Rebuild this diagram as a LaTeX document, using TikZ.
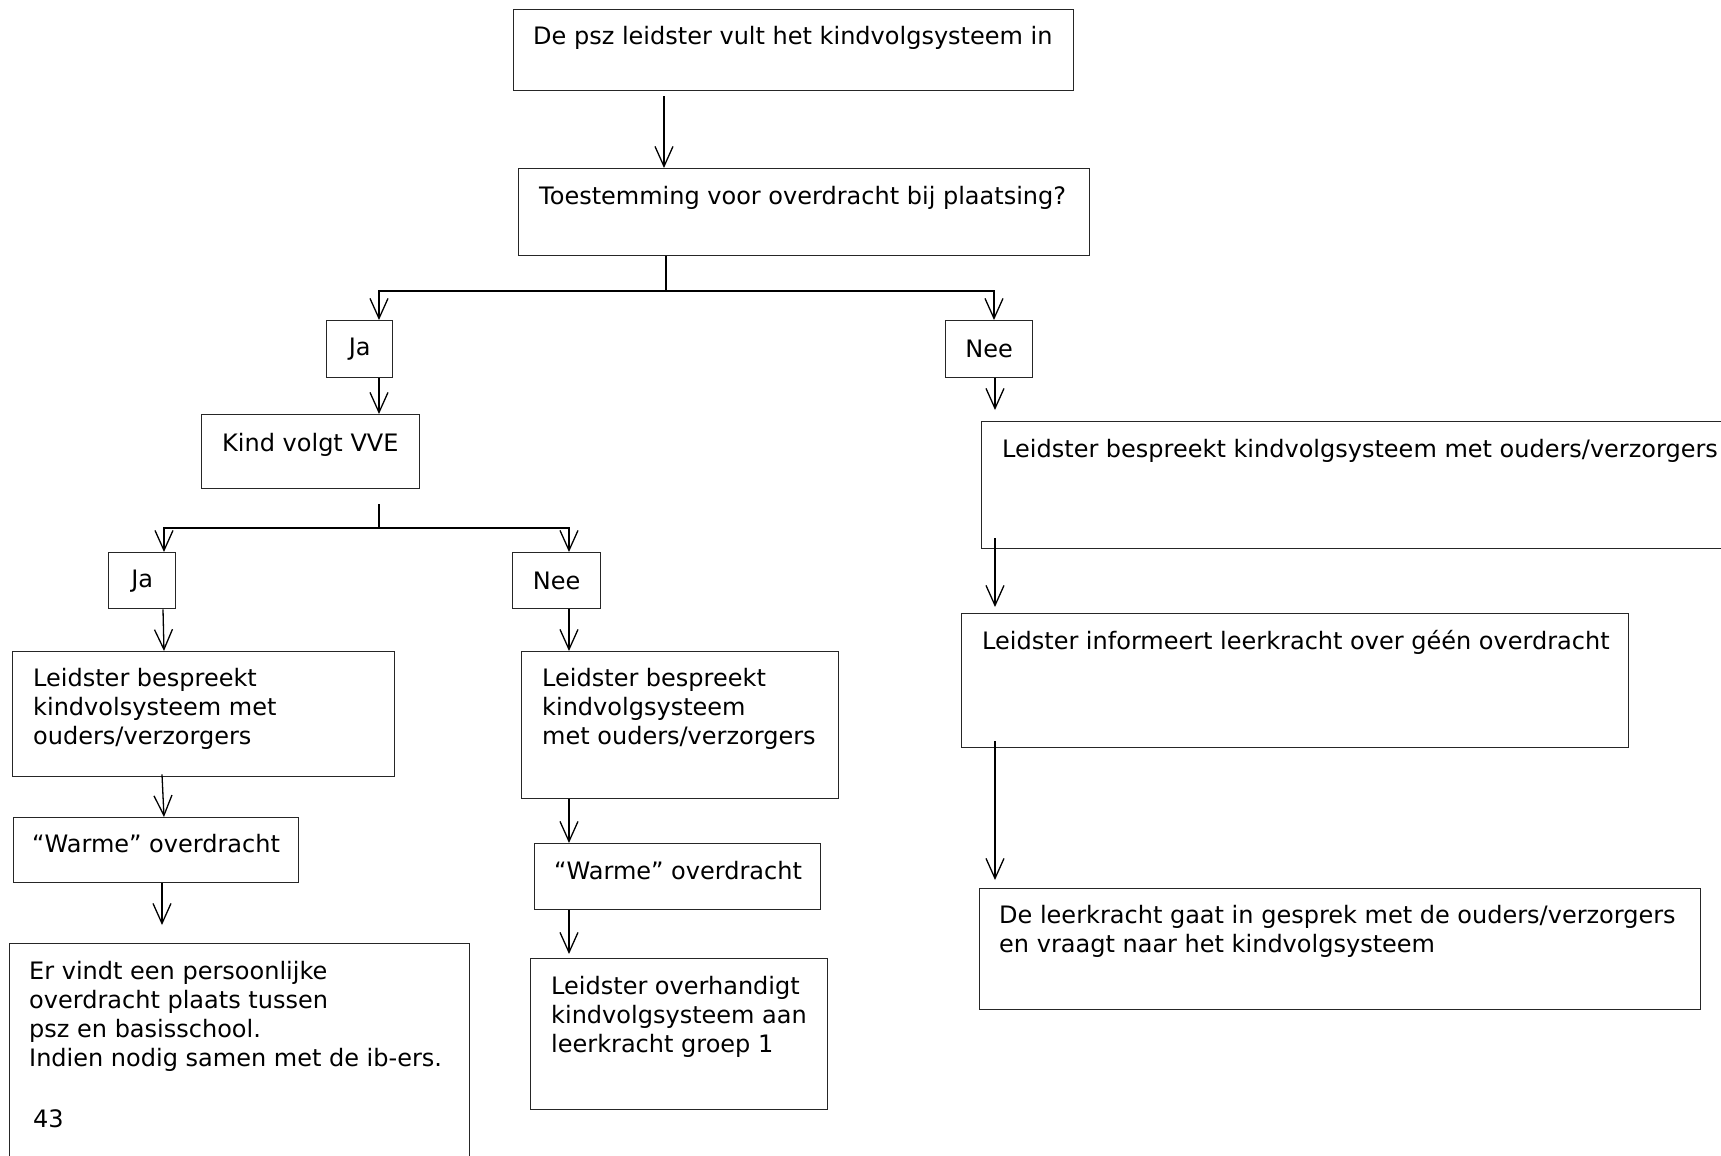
\documentclass[tikz,border=0pt]{standalone}
\usepackage{fontspec}
\setmainfont{DejaVu Sans}
\usetikzlibrary{arrows.meta,calc}
\begin{document}
\begin{tikzpicture}[x=1pt,y=-1pt,
  box/.style={draw=black!85, line width=1.4pt, anchor=north west, inner sep=0pt, align=center,
    font=\fontsize{24}{29}\selectfont},
  txt/.style={anchor=north west, inner sep=0pt, align=left, font=\fontsize{24}{29}\selectfont},
  arr/.style={-{Straight Barb[length=20pt,width=18pt]}, line width=1.3pt},
  ln/.style={line width=1.3pt}]
\useasboundingbox (0,0) rectangle (1721,1156);
\clip (0,0) rectangle (1721,1156);
\fill[white] (0,0) rectangle (1721,1156);
% boxes
\node[box, minimum width=560pt, minimum height=81pt] (b1) at (513,9) {};
\node[box, minimum width=571pt, minimum height=87pt] (b2) at (518,168) {};
\node[box, minimum width=66pt, minimum height=57pt] (ja) at (326,320) {Ja};
\node[box, minimum width=87pt, minimum height=57pt] (nee) at (945,320) {Nee};
\node[box, minimum width=218pt, minimum height=74pt] (vve) at (201,414) {};
\node[box, minimum width=67pt, minimum height=56pt] (ja2) at (108,552) {Ja};
\node[box, minimum width=88pt, minimum height=56pt] (nee2) at (512,552) {Nee};
\node[box, minimum width=382pt, minimum height=125pt] (L1) at (12,651) {};
\node[box, minimum width=317pt, minimum height=147pt] (R1) at (521,651) {};
\node[box, minimum width=285pt, minimum height=65pt] (W1) at (13,817) {};
\node[box, minimum width=286pt, minimum height=66pt] (W2) at (534,843) {};
\node[box, minimum width=460pt, minimum height=230pt] (E) at (9,943) {};
\node[box, minimum width=297pt, minimum height=151pt] (O) at (530,958) {};
\node[box, minimum width=760pt, minimum height=127pt] (RB1) at (981,421) {};
\node[box, minimum width=667pt, minimum height=134pt] (RB2) at (961,613) {};
\node[box, minimum width=721pt, minimum height=121pt] (RB3) at (979,888) {};
% texts
\node[txt] (tb1) at (533,26) {De psz leidster vult het kindvolgsysteem in};
\node[txt] (tb2) at (539,186) {Toestemming voor overdracht bij plaatsing?};
\node[txt] (tvve) at (222,433) {Kind volgt VVE};
\node[txt] (tL1) at (33,668) {Leidster bespreekt\\kindvolsysteem met\\ouders/verzorgers};
\node[txt] (tR1) at (542,668) {Leidster bespreekt\\kindvolgsysteem\\met ouders/verzorgers};
\node[txt] (tW1) at (32,834) {“Warme” overdracht};
\node[txt] (tW2) at (554,861) {“Warme” overdracht};
\node[txt] (tE) at (29,961) {Er vindt een persoonlijke\\overdracht plaats tussen\\psz en basisschool.\\Indien nodig samen met de ib-ers.};
\node[txt] (t43) at (33,1109) {43};
\node[txt] (tO) at (551,976) {Leidster overhandigt\\kindvolgsysteem aan\\leerkracht groep 1};
\node[txt] (tRB1) at (1002,439) {Leidster bespreekt kindvolgsysteem met ouders/verzorgers};
\node[txt] (tRB2) at (982,630) {Leidster informeert leerkracht over géén overdracht};
\node[txt] (tRB3) at (999,905) {De leerkracht gaat in gesprek met de ouders/verzorgers\\en vraagt naar het kindvolgsysteem};
% connectors
\draw[arr] ($(b1.south -| 664,0)+(0,5)$) -- (b2.north -| 664,0);
\draw[ln] (b2.south -| 666,0) -- (666,291) coordinate (f1);
\draw[arr] (f1) -| (ja.north -| 379,0);
\draw[arr] (f1) -| (nee.north -| 994,0);
\draw[arr] (ja.south -| 379,0) -- (vve.north -| 379,0);
\draw[ln] ($(vve.south -| 379,0)+(0,15)$) -- (379,528) coordinate (f2);
\draw[arr] (f2) -| (ja2.north -| 164,0);
\draw[arr] (f2) -| (nee2.north -| 569,0);
\draw[arr] (ja2.south -| 163,0) -- (L1.north -| 164,0);
\draw[arr] (nee2.south -| 569,0) -- (R1.north -| 569,0);
\draw[arr] ($(L1.south -| 162,0)+(0,-3)$) -- (W1.north -| 164,0);
\draw[arr] (W1.south -| 162,0) -- ($(E.north -| 162,0)+(0,-18)$);
\draw[arr] (R1.south -| 569,0) -- (W2.north -| 569,0);
\draw[arr] (W2.south -| 569,0) -- ($(O.north -| 569,0)+(0,-4)$);
\draw[arr] (nee.south -| 995,0) -- ($(RB1.north -| 995,0)+(0,-11)$);
\draw[arr] ($(RB1.south -| 995,0)+(0,-11)$) -- ($(RB2.north -| 995,0)+(0,-6)$);
\draw[arr] ($(RB2.south -| 995,0)+(0,-7)$) -- ($(RB3.north -| 995,0)+(0,-8)$);
\end{tikzpicture}
\end{document}
